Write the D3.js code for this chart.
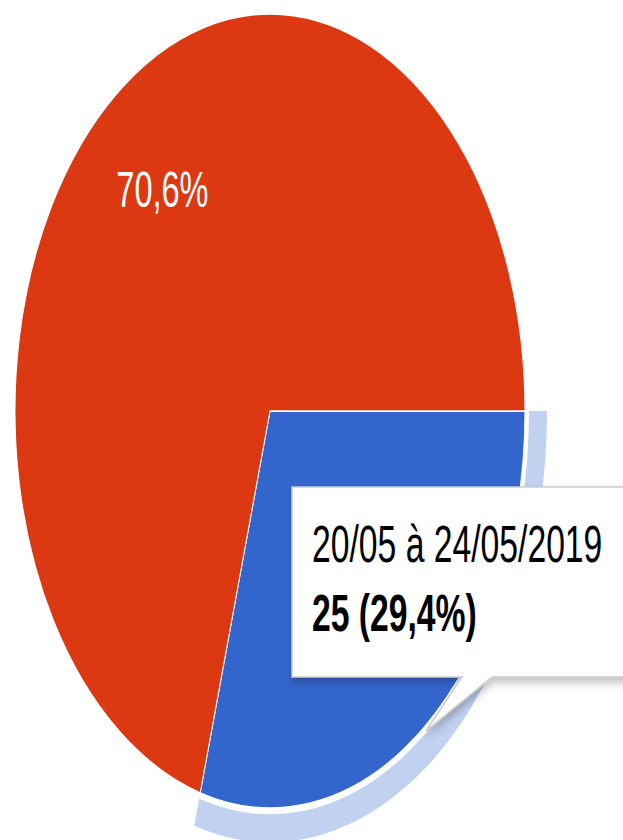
<!DOCTYPE html>
<html>
<head>
<meta charset="utf-8">
<script src="https://cdn.jsdelivr.net/npm/d3@7"></script>
<style>
  html, body { margin: 0; padding: 0; background: #fff; overflow: hidden; }
  svg { display: block; }
  text { font-family: "Liberation Sans", Arial, sans-serif; }
</style>
</head>
<body>
<div id="chart"></div>
<script>
// slice data (blue slice is the hovered one)
const categories = ['20/05 à 24/05/2019', 'Autres'];
const counts = [25, 60];
const colors = ['#3366cc', '#dc3912'];
const hovered = 0;

const width = 623;
const height = 840;
const stretchY = 1.557;          // picture is stretched vertically
const cx = 270;
const cy = 411 / stretchY;
const radius = 255;

const total = d3.sum(counts);
const pct = v => (v / total * 100).toFixed(1).replace('.', ',') + '%';

const svg = d3.select('#chart')
  .append('svg')
  .attr('width', width)
  .attr('height', height);

const defs = svg.append('defs');
const shadow = defs.append('filter')
  .attr('id', 'tip-shadow')
  .attr('x', '-10%').attr('y', '-10%')
  .attr('width', '130%').attr('height', '140%');
shadow.append('feDropShadow')
  .attr('dx', 1).attr('dy', 3)
  .attr('stdDeviation', 3)
  .attr('flood-color', '#000')
  .attr('flood-opacity', 0.25);

const root = svg.append('g')
  .attr('transform', `scale(1, ${stretchY})`);

const pie = d3.pie()
  .sort(null)
  .startAngle(Math.PI / 2)
  .endAngle(Math.PI / 2 + 2 * Math.PI);

const arcs = pie(counts);

const arc = d3.arc().innerRadius(0).outerRadius(radius);
const ringArc = d3.arc().innerRadius(radius + 4).outerRadius(radius + 22);
const labelArc = d3.arc().innerRadius(radius * 0.7).outerRadius(radius * 0.7);

const pieG = root.append('g')
  .attr('transform', `translate(${cx},${cy})`);

// hover ring round the highlighted slice
pieG.append('path')
  .attr('class', 'hover-ring')
  .attr('d', ringArc(arcs[hovered]))
  .attr('fill', colors[hovered])
  .attr('fill-opacity', 0.3);

pieG.selectAll('path.slice')
  .data(arcs)
  .enter()
  .append('path')
  .attr('class', 'slice')
  .attr('d', arc)
  .attr('fill', (d, i) => colors[i])
  .attr('stroke', '#fff')
  .attr('stroke-width', 1);

// only the big slice shows its label, the other one sits under the tooltip
pieG.selectAll('text.slice-label')
  .data(arcs.filter((d, i) => i !== hovered))
  .enter()
  .append('text')
  .attr('class', 'slice-label')
  .attr('x', d => labelArc.centroid(d)[0])
  .attr('y', d => labelArc.centroid(d)[1])
  .attr('dy', '0.35em')
  .attr('text-anchor', 'middle')
  .attr('font-size', 32.5)
  .attr('fill', '#fff')
  .text(d => pct(d.value));

// tooltip
const tip = { left: 292, top: 487 / stretchY, bottom: 677 / stretchY, tailL: 462, tailR: 492, tipX: 426, tipY: 731 / stretchY };
const tipG = root.append('g').attr('class', 'tooltip');

tipG.append('path')
  .attr('d', `M${tip.left},${tip.top} H${width + 40} V${tip.bottom} H${tip.tailR} L${tip.tipX},${tip.tipY} L${tip.tailL},${tip.bottom} H${tip.left} Z`)
  .attr('fill', '#fff')
  .attr('stroke', '#cccccc')
  .attr('stroke-width', 1.5)
  .attr('vector-effect', 'non-scaling-stroke')
  .attr('filter', 'url(#tip-shadow)');

tipG.append('text')
  .attr('x', 312)
  .attr('y', 562 / stretchY)
  .attr('font-size', 33.7)
  .attr('fill', '#000')
  .text(categories[hovered]);

tipG.append('text')
  .attr('x', 312)
  .attr('y', 631 / stretchY)
  .attr('font-size', 33.7)
  .attr('font-weight', 'bold')
  .attr('fill', '#000')
  .text(`${counts[hovered]} (${pct(counts[hovered])})`);
</script>
</body>
</html>
